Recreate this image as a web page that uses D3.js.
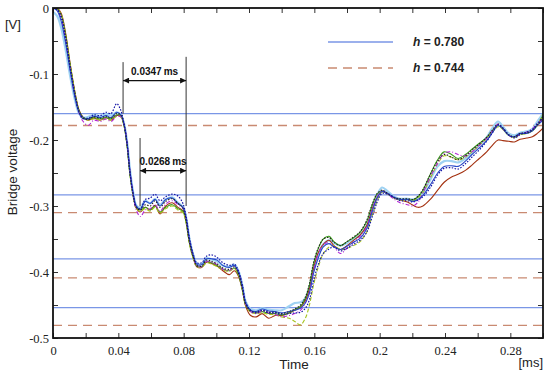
<!DOCTYPE html>
<html><head><meta charset="utf-8">
<script src="https://cdn.jsdelivr.net/npm/d3@7"></script>
<style>body{margin:0;background:#fff}svg{display:block}</style>
</head><body>
<svg id="c" width="550" height="376"></svg>
<script>
// ---------- data ----------
const times=[0,0.0025,0.005,0.0075,0.0105,0.0135,0.016,0.0185,0.0215,0.025,
0.029,0.0325,0.0355,0.039,0.0415,0.0435,0.0455,0.047,0.049,0.051,
0.0535,0.0565,0.0595,0.0625,0.0655,0.069,0.073,0.0765,0.0795,0.0815,
0.0835,0.086,0.088,0.091,0.094,0.097,0.1005,0.104,0.108,0.111,
0.1135,0.116,0.118,0.121,0.1245,0.128,0.132,0.136,0.140,0.1445,
0.148,0.1515,0.1545,0.157,0.1595,0.1625,0.1655,0.169,0.172,0.176,
0.180,0.184,0.188,0.192,0.1955,0.1985,0.2015,0.205,0.209,0.2125,
0.217,0.2205,0.2235,0.2265,0.231,0.2355,0.2395,0.244,0.248,0.2525,
0.2565,0.261,0.2655,0.269,0.2725,0.2755,0.279,0.2825,0.286,0.290,
0.2935,0.2965,0.300];

const lightBlue=[-0.006,-0.012,-0.03,-0.06,-0.103,-0.14,-0.16,-0.166,-0.165,-0.162,
-0.164,-0.161,-0.163,-0.158,-0.162,-0.175,-0.205,-0.242,-0.278,-0.299,
-0.302,-0.292,-0.296,-0.289,-0.298,-0.290,-0.287,-0.295,-0.301,-0.317,
-0.349,-0.375,-0.387,-0.388,-0.379,-0.381,-0.384,-0.390,-0.392,-0.389,
-0.398,-0.421,-0.445,-0.456,-0.458,-0.455,-0.457,-0.458,-0.458,-0.452,
-0.447,-0.446,-0.440,-0.424,-0.396,-0.374,-0.358,-0.352,-0.356,-0.360,
-0.356,-0.350,-0.344,-0.330,-0.302,-0.283,-0.272,-0.278,-0.286,-0.289,
-0.289,-0.290,-0.287,-0.280,-0.260,-0.240,-0.232,-0.232,-0.234,-0.228,
-0.219,-0.208,-0.196,-0.182,-0.172,-0.180,-0.190,-0.193,-0.189,-0.187,
-0.183,-0.172,-0.160];

const blueSolid=[0,-0.004,-0.02,-0.05,-0.095,-0.136,-0.159,-0.168,-0.168,-0.164,
-0.166,-0.163,-0.166,-0.158,-0.162,-0.176,-0.207,-0.244,-0.279,-0.300,
-0.305,-0.293,-0.296,-0.290,-0.300,-0.290,-0.288,-0.296,-0.302,-0.318,
-0.350,-0.376,-0.388,-0.389,-0.380,-0.380,-0.382,-0.390,-0.393,-0.390,
-0.400,-0.423,-0.447,-0.458,-0.460,-0.456,-0.459,-0.460,-0.462,-0.460,
-0.458,-0.455,-0.447,-0.432,-0.402,-0.378,-0.362,-0.357,-0.362,-0.366,
-0.361,-0.355,-0.349,-0.335,-0.308,-0.288,-0.278,-0.281,-0.287,-0.290,
-0.290,-0.293,-0.290,-0.284,-0.268,-0.250,-0.240,-0.239,-0.240,-0.232,
-0.222,-0.212,-0.201,-0.189,-0.178,-0.183,-0.193,-0.195,-0.190,-0.190,
-0.186,-0.178,-0.170];

const darkBlueDotted=[0,-0.002,-0.014,-0.043,-0.09,-0.132,-0.157,-0.166,-0.167,-0.162,
-0.163,-0.158,-0.160,-0.145,-0.155,-0.176,-0.209,-0.247,-0.281,-0.301,
-0.304,-0.290,-0.288,-0.282,-0.292,-0.286,-0.282,-0.285,-0.296,-0.316,
-0.348,-0.374,-0.386,-0.386,-0.376,-0.374,-0.378,-0.386,-0.390,-0.388,
-0.398,-0.420,-0.446,-0.458,-0.462,-0.458,-0.462,-0.462,-0.464,-0.463,
-0.462,-0.461,-0.455,-0.442,-0.414,-0.388,-0.372,-0.365,-0.362,-0.368,
-0.364,-0.358,-0.352,-0.340,-0.316,-0.294,-0.281,-0.282,-0.287,-0.292,
-0.292,-0.294,-0.291,-0.286,-0.272,-0.253,-0.243,-0.242,-0.244,-0.236,
-0.226,-0.215,-0.202,-0.189,-0.177,-0.182,-0.192,-0.197,-0.192,-0.188,
-0.184,-0.175,-0.165];

const magentaDashDot=[0,-0.003,-0.016,-0.046,-0.093,-0.135,-0.160,-0.172,-0.178,-0.170,
-0.172,-0.168,-0.172,-0.164,-0.165,-0.176,-0.208,-0.245,-0.282,-0.306,
-0.316,-0.306,-0.304,-0.298,-0.308,-0.297,-0.292,-0.298,-0.303,-0.320,
-0.352,-0.378,-0.391,-0.392,-0.384,-0.385,-0.389,-0.396,-0.398,-0.392,
-0.400,-0.424,-0.449,-0.460,-0.463,-0.459,-0.462,-0.464,-0.468,-0.466,
-0.463,-0.458,-0.447,-0.430,-0.398,-0.372,-0.358,-0.356,-0.362,-0.372,
-0.364,-0.355,-0.346,-0.332,-0.305,-0.286,-0.277,-0.282,-0.290,-0.295,
-0.298,-0.300,-0.294,-0.280,-0.256,-0.235,-0.220,-0.218,-0.222,-0.224,
-0.218,-0.208,-0.197,-0.186,-0.176,-0.183,-0.193,-0.196,-0.191,-0.188,
-0.183,-0.176,-0.168];

const greenSolid=[0,-0.001,-0.01,-0.038,-0.086,-0.13,-0.156,-0.166,-0.168,-0.166,
-0.168,-0.166,-0.168,-0.162,-0.163,-0.178,-0.212,-0.250,-0.284,-0.302,
-0.306,-0.302,-0.306,-0.300,-0.309,-0.302,-0.298,-0.304,-0.308,-0.325,
-0.356,-0.380,-0.391,-0.392,-0.384,-0.386,-0.390,-0.396,-0.398,-0.394,
-0.404,-0.428,-0.450,-0.460,-0.462,-0.460,-0.463,-0.463,-0.465,-0.462,
-0.457,-0.452,-0.440,-0.420,-0.388,-0.364,-0.350,-0.346,-0.354,-0.360,
-0.354,-0.348,-0.340,-0.324,-0.298,-0.282,-0.277,-0.282,-0.288,-0.290,
-0.290,-0.291,-0.286,-0.276,-0.252,-0.230,-0.218,-0.222,-0.228,-0.222,
-0.214,-0.205,-0.196,-0.186,-0.178,-0.184,-0.193,-0.196,-0.191,-0.190,
-0.186,-0.178,-0.162];

const brownSolid=[0,0,-0.008,-0.035,-0.084,-0.128,-0.155,-0.166,-0.170,-0.167,
-0.170,-0.166,-0.170,-0.163,-0.164,-0.178,-0.210,-0.247,-0.282,-0.303,
-0.309,-0.302,-0.306,-0.299,-0.312,-0.300,-0.295,-0.302,-0.307,-0.323,
-0.354,-0.379,-0.392,-0.393,-0.385,-0.387,-0.391,-0.398,-0.404,-0.398,
-0.406,-0.428,-0.452,-0.466,-0.468,-0.463,-0.470,-0.466,-0.466,-0.462,
-0.458,-0.453,-0.443,-0.425,-0.395,-0.370,-0.358,-0.352,-0.360,-0.366,
-0.360,-0.352,-0.344,-0.330,-0.304,-0.287,-0.278,-0.282,-0.288,-0.291,
-0.294,-0.299,-0.302,-0.300,-0.290,-0.276,-0.264,-0.256,-0.252,-0.246,
-0.238,-0.228,-0.218,-0.208,-0.200,-0.201,-0.202,-0.203,-0.199,-0.197,
-0.195,-0.190,-0.182];

const blackDotted=[0,-0.002,-0.012,-0.04,-0.088,-0.131,-0.157,-0.167,-0.169,-0.165,
-0.167,-0.164,-0.167,-0.160,-0.162,-0.177,-0.210,-0.248,-0.282,-0.302,
-0.306,-0.298,-0.300,-0.292,-0.302,-0.293,-0.289,-0.296,-0.303,-0.322,
-0.354,-0.378,-0.390,-0.391,-0.382,-0.384,-0.388,-0.394,-0.396,-0.392,
-0.402,-0.426,-0.449,-0.459,-0.461,-0.458,-0.461,-0.461,-0.463,-0.460,
-0.456,-0.450,-0.438,-0.418,-0.386,-0.363,-0.350,-0.348,-0.355,-0.360,
-0.354,-0.347,-0.339,-0.322,-0.297,-0.281,-0.276,-0.281,-0.287,-0.289,
-0.289,-0.290,-0.285,-0.275,-0.252,-0.232,-0.222,-0.226,-0.230,-0.224,
-0.215,-0.206,-0.196,-0.185,-0.176,-0.182,-0.192,-0.195,-0.190,-0.189,
-0.185,-0.177,-0.166];

const yellowGreenDashed=[0,-0.001,-0.01,-0.037,-0.085,-0.129,-0.156,-0.167,-0.170,-0.168,
-0.170,-0.168,-0.170,-0.164,-0.165,-0.179,-0.212,-0.250,-0.285,-0.304,
-0.308,-0.304,-0.308,-0.302,-0.311,-0.304,-0.300,-0.306,-0.310,-0.326,
-0.357,-0.381,-0.392,-0.393,-0.386,-0.388,-0.392,-0.397,-0.399,-0.395,
-0.404,-0.428,-0.451,-0.461,-0.463,-0.462,-0.464,-0.465,-0.468,-0.470,
-0.475,-0.480,-0.470,-0.450,-0.420,-0.392,-0.372,-0.362,-0.360,-0.366,
-0.364,-0.360,-0.354,-0.340,-0.314,-0.292,-0.279,-0.282,-0.288,-0.291,
-0.291,-0.292,-0.288,-0.280,-0.258,-0.236,-0.224,-0.226,-0.230,-0.226,
-0.218,-0.208,-0.198,-0.188,-0.180,-0.184,-0.193,-0.196,-0.192,-0.190,
-0.186,-0.178,-0.160];

const blueLevels=[-0.160,-0.283,-0.380,-0.454];
const redLevels=[-0.178,-0.310,-0.409,-0.481];
const legendLabels=["0.780","0.744"];
const xTickValues=[0,0.02,0.04,0.06,0.08,0.10,0.12,0.14,0.16,0.18,0.20,0.22,0.24,0.26,0.28,0.30];
const xTickLabels=["0","","0.04","","0.08","","0.12","","0.16","","0.2","","0.24","","0.28",""];
const yTickValues=[0,-0.05,-0.1,-0.15,-0.2,-0.25,-0.3,-0.35,-0.4,-0.45,-0.5];
const yTickLabels=["0","","-0.1","","-0.2","","-0.3","","-0.4","","-0.5"];
// interval annotations: [start time, end time, level, label]
const spanStart=[0.0429,0.0533];
const spanEnd=[0.0815,0.0815];
const spanLevel=[-0.110,-0.2465];
const spanLabels=["0.0347","0.0268"];

// ---------- drawing ----------
const svg=d3.select("#c");
const L=53,T=8,R=543,B=338;
const x=d3.scaleLinear().domain([0,0.3]).range([L,R]);
const y=d3.scaleLinear().domain([-0.5,0]).range([B,T]);

svg.append("defs").append("clipPath").attr("id","clip")
  .append("rect").attr("x",L).attr("y",T).attr("width",R-L).attr("height",B-T);

// reference levels
const lv=svg.append("g").attr("clip-path","url(#clip)");
lv.selectAll(".bl").data(blueLevels).join("line")
  .attr("x1",L).attr("x2",R).attr("y1",d=>y(d)).attr("y2",d=>y(d))
  .attr("stroke","#7a96e6").attr("stroke-width",1.3);
lv.selectAll(".rl").data(redLevels).join("line")
  .attr("x1",L).attr("x2",R).attr("y1",d=>y(d)).attr("y2",d=>y(d))
  .attr("stroke","#c98a72").attr("stroke-width",1.3).attr("stroke-dasharray","9,6");

// series
const series=[
  {v:lightBlue,c:"#9fd2f2",w:2.2,d:null},
  {v:brownSolid,c:"#a3300f",w:1.1,d:null},
  {v:greenSolid,c:"#3c9c1c",w:1.1,d:null},
  {v:yellowGreenDashed,c:"#a6c41e",w:1.1,d:"4,2"},
  {v:magentaDashDot,c:"#b326d6",w:1.1,d:"4,2,1,2"},
  {v:blueSolid,c:"#2748c8",w:1.1,d:null},
  {v:blackDotted,c:"#222",w:1.1,d:"1.5,1.5"},
  {v:darkBlueDotted,c:"#1414a6",w:1.2,d:"1.5,1.5"}
];
const line=d3.line().x(d=>x(d[0])).y(d=>y(d[1])).curve(d3.curveCatmullRom.alpha(0.5));
const sg=svg.append("g").attr("clip-path","url(#clip)");
series.forEach(s=>{
  sg.append("path").datum(times.map((t,i)=>[t,s.v[i]]))
    .attr("d",line).attr("fill","none").attr("stroke",s.c)
    .attr("stroke-width",s.w).attr("stroke-dasharray",s.d);
});

// axes
const fmtX=d=>xTickLabels[xTickValues.findIndex(v=>Math.abs(v-d)<1e-9)];
const fmtY=d=>yTickLabels[yTickValues.findIndex(v=>Math.abs(v-d)<1e-9)];
const serif="'Liberation Serif','Times New Roman',serif";
const ax=svg.append("g").attr("transform",`translate(0,${B})`)
  .call(d3.axisBottom(x).tickValues(xTickValues).tickFormat(fmtX).tickSizeInner(-5).tickSizeOuter(0).tickPadding(6));
const axT=svg.append("g").attr("transform",`translate(0,${T})`)
  .call(d3.axisTop(x).tickValues(xTickValues).tickFormat("").tickSizeInner(-5).tickSizeOuter(0));
const ay=svg.append("g").attr("transform",`translate(${L},0)`)
  .call(d3.axisLeft(y).tickValues(yTickValues).tickFormat(fmtY).tickSizeInner(-5).tickSizeOuter(0).tickPadding(4));
const ayR=svg.append("g").attr("transform",`translate(${R},0)`)
  .call(d3.axisRight(y).tickValues(yTickValues).tickFormat("").tickSizeInner(-5).tickSizeOuter(0));
[ax,axT,ay,ayR].forEach(g=>{
  g.select(".domain").remove();
  g.selectAll("line").attr("stroke","#333").attr("stroke-width",1);
  g.selectAll("text").attr("font-family",serif).attr("font-size",12.5).attr("fill","#222");
});
ax.selectAll("text").attr("dy","0.9em");
svg.append("rect").attr("x",L).attr("y",T).attr("width",R-L).attr("height",B-T)
  .attr("fill","none").attr("stroke","#111").attr("stroke-width",1.8);

// axis labels
const sans="'Liberation Sans',Arial,sans-serif";
svg.append("text").attr("x",5).attr("y",29).text("[V]")
  .attr("font-family",sans).attr("font-size",13).attr("fill","#222");
svg.append("text").attr("transform","translate(17,172) rotate(-90)").attr("text-anchor","middle")
  .text("Bridge voltage").attr("font-family",sans).attr("font-size",13.5).attr("fill","#222");
svg.append("text").attr("x",294).attr("y",369).attr("text-anchor","middle").text("Time")
  .attr("font-family",sans).attr("font-size",13.5).attr("fill","#222");
svg.append("text").attr("x",543).attr("y",367).attr("text-anchor","end").text("[ms]")
  .attr("font-family",sans).attr("font-size",13).attr("fill","#222");

// legend
const legY=[42,68];
const lg=svg.append("g");
legendLabels.forEach((lab,i)=>{
  lg.append("line").attr("x1",328).attr("x2",393).attr("y1",legY[i]).attr("y2",legY[i])
    .attr("stroke",i===0?"#7a96e6":"#c98a72").attr("stroke-width",1.3)
    .attr("stroke-dasharray",i===0?null:"9,6");
  const t=lg.append("text").attr("x",413).attr("y",legY[i]+4).attr("font-family",sans)
    .attr("font-size",12).attr("font-weight","bold").attr("fill","#222");
  t.append("tspan").attr("font-style","italic").text("h");
  t.append("tspan").text(" = "+lab);
});

// interval annotations
const defs=svg.select("defs");
defs.append("marker").attr("id","ah").attr("viewBox","0 0 10 10").attr("refX",10).attr("refY",5)
  .attr("markerWidth",7).attr("markerHeight",5).attr("orient","auto-start-reverse")
  .append("path").attr("d","M0,0L10,5L0,10z").attr("fill","#111");
const ann=svg.append("g");
// vertical marker lines
const vTop=[-0.082,-0.074,-0.197];
const vBot=[-0.160,-0.300,-0.300];
const vT=[spanStart[0],spanEnd[0],spanStart[1]];
vT.forEach((t,i)=>{
  ann.append("line").attr("x1",x(t)).attr("x2",x(t)).attr("y1",y(vTop[i])).attr("y2",y(vBot[i]))
    .attr("stroke","#333").attr("stroke-width",1);
});
spanLabels.forEach((lab,i)=>{
  ann.append("line").attr("x1",x(spanStart[i])).attr("x2",x(spanEnd[i]))
    .attr("y1",y(spanLevel[i])).attr("y2",y(spanLevel[i]))
    .attr("stroke","#111").attr("stroke-width",1.2)
    .attr("marker-start","url(#ah)").attr("marker-end","url(#ah)");
  const cx=(x(spanStart[i])+x(spanEnd[i]))/2;
  const t=ann.append("text").attr("x",cx).attr("y",y(spanLevel[i])-6).attr("text-anchor","middle")
    .attr("font-family",sans).attr("font-size",10).attr("font-weight","bold").attr("fill","#111");
  t.append("tspan").text(lab);
  t.append("tspan").attr("dx",2).text("ms");
});
</script>
</body></html>
